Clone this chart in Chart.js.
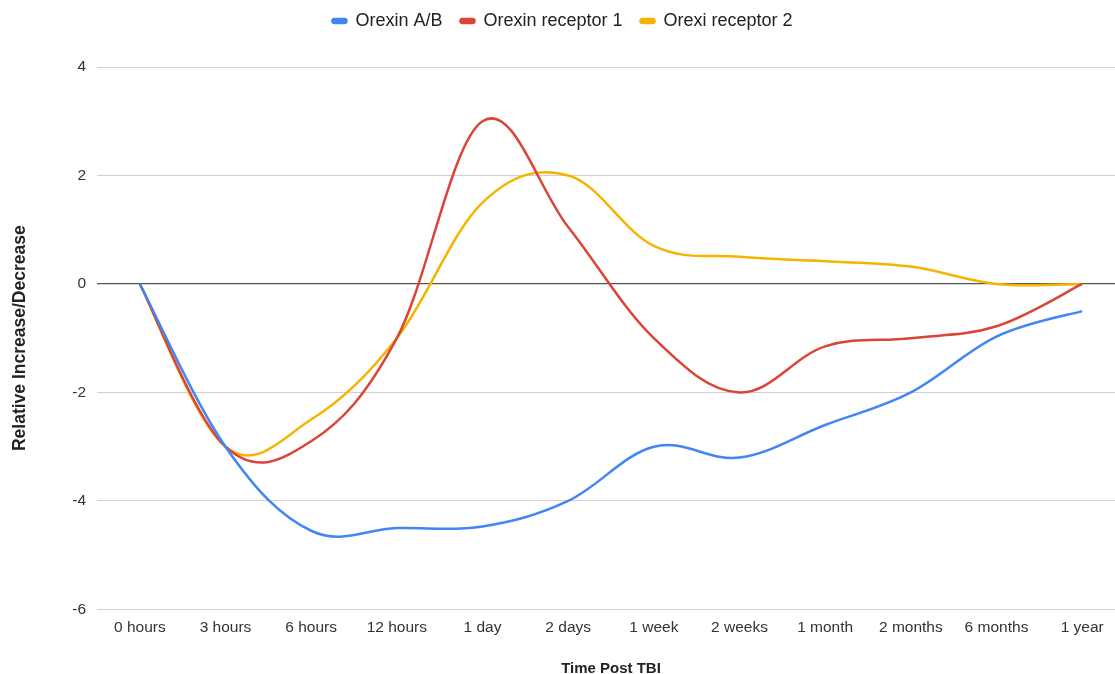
<!DOCTYPE html>
<html>
<head>
<meta charset="utf-8">
<script src="https://cdn.jsdelivr.net/npm/chart.js@4.4.1/dist/chart.umd.min.js"></script>
<style>
  html, body { margin: 0; padding: 0; background: #fff; overflow: hidden; }
  #wrap { width: 1125px; height: 674px; }
</style>
</head>
<body>
<div id="wrap"><canvas id="chart" width="1125" height="674"></canvas></div>
<script>
const categories = ['0 hours', '3 hours', '6 hours', '12 hours', '1 day', '2 days',
  '1 week', '2 weeks', '1 month', '2 months', '6 months', '1 year'];

const orexinAB = [0, -3, -4.55, -4.5, -4.47, -4, -3, -3.2, -2.6, -2, -0.97, -0.5];
const orexinReceptor1 = [0, -3, -2.9, -1, 3, 1.05, -1, -2, -1.15, -1, -0.78, 0];
const orexiReceptor2 = [0, -3, -2.5, -1, 1.5, 2, 0.7, 0.5, 0.42, 0.32, 0, 0];

const yTicks = [-6, -4, -2, 0, 2, 4];

const font = 'Arial, "Liberation Sans", sans-serif';

// sheets-style smoothing: uniform catmull-rom on the points chart.js placed
const smoothCurve = {
  id: 'smoothCurve',
  beforeDatasetDraw(chart, args) {
    const meta = args.meta;
    const pts = meta.data;
    meta.dataset.updateControlPoints(chart.chartArea, meta.indexAxis);
    const k = 0.18;
    for (let i = 0; i < pts.length; i++) {
      const cur = pts[i];
      const prev = pts[i - 1] || cur;
      const next = pts[i + 1] || cur;
      const dx = next.x - prev.x;
      const dy = next.y - prev.y;
      cur.cp1x = cur.x - dx * k;
      cur.cp1y = cur.y - dy * k;
      cur.cp2x = cur.x + dx * k;
      cur.cp2y = cur.y + dy * k;
    }
  }
};

// extra room under the legend
const legendGap = {
  id: 'legendGap',
  beforeInit(chart) {
    const fit = chart.legend.fit;
    chart.legend.fit = function () {
      fit.call(this);
      this.height += 27;
    };
  }
};

function series(label, data, color) {
  return {
    label: label,
    data: data,
    borderColor: color,
    backgroundColor: color,
    borderWidth: 2.5,
    pointRadius: 0,
    tension: 0.3
  };
}

new Chart(document.getElementById('chart').getContext('2d'), {
  type: 'line',
  data: {
    labels: categories,
    datasets: [
      series('Orexin A/B', orexinAB, '#4285F4'),
      series('Orexin receptor 1', orexinReceptor1, '#DB4437'),
      series('Orexi receptor 2', orexiReceptor2, '#F4B400')
    ]
  },
  plugins: [smoothCurve, legendGap],
  options: {
    responsive: false,
    animation: false,
    layout: { padding: { top: -6, right: 0, bottom: -4, left: 0 } },
    elements: { line: { capBezierPoints: false } },
    plugins: {
      legend: {
        position: 'top',
        labels: {
          font: { family: font, size: 18 },
          color: '#222',
          boxWidth: 14,
          boxHeight: 4,
          padding: 18,
          useBorderRadius: true,
          borderRadius: 2
        }
      },
      tooltip: { enabled: false }
    },
    scales: {
      x: {
        offset: true,
        grid: { display: false, drawTicks: false },
        border: { display: false },
        ticks: {
          font: { family: font, size: 15.5 },
          color: '#333',
          padding: 9,
          maxRotation: 0,
          autoSkip: false
        },
        title: {
          display: true,
          text: 'Time Post TBI',
          font: { family: font, size: 15, weight: 'bold' },
          color: '#222',
          padding: { top: 14, bottom: 0 }
        }
      },
      y: {
        min: -6,
        max: 4,
        afterBuildTicks: function (scale) {
          scale.ticks = yTicks.map(v => ({ value: v }));
        },
        afterFit: function (scale) {
          scale.width = 97;
        },
        grid: {
          drawTicks: false,
          color: ctx => ctx.tick && ctx.tick.value === 0 ? '#555' : '#d0d0d0',
          lineWidth: ctx => ctx.tick && ctx.tick.value === 0 ? 1.3 : 1
        },
        border: { display: false },
        ticks: {
          font: { family: font, size: 15.5 },
          color: '#333',
          padding: 11
        },
        title: {
          display: true,
          text: 'Relative Increase/Decrease',
          font: { family: font, size: 17.5, weight: 'bold' },
          color: '#222',
          padding: { top: 10, bottom: 0 }
        }
      }
    }
  }
});
</script>
</body>
</html>
